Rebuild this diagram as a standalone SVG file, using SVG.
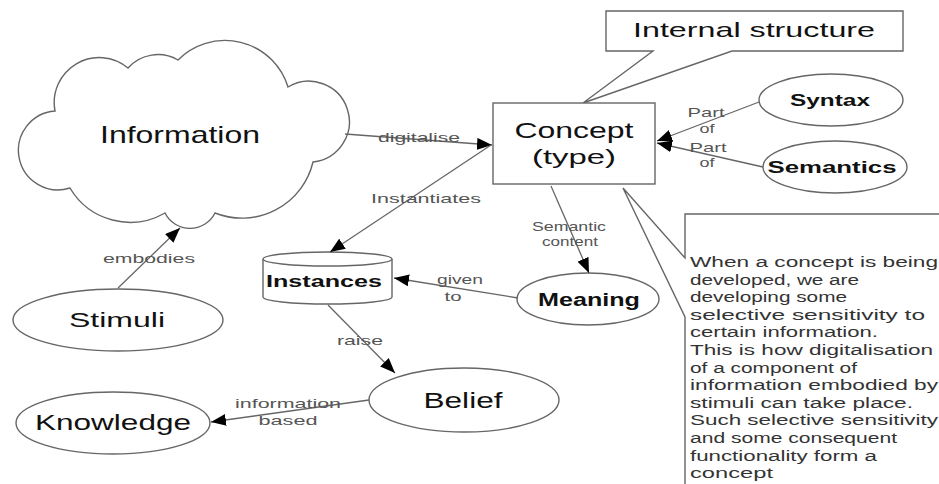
<svg xmlns="http://www.w3.org/2000/svg" width="939" height="484" viewBox="0 0 939 484">
<style>
.shape{fill:#fff;stroke:#666;stroke-width:1.4}
.conn{fill:none;stroke:#666;stroke-width:1.3}
.lbl{font-family:"Liberation Sans",Arial,sans-serif;fill:#111;text-anchor:middle}
.b{font-weight:bold}
.el{font-family:"Liberation Sans",Arial,sans-serif;fill:#555;text-anchor:middle;font-size:13px}
.note{font-family:"Liberation Sans",Arial,sans-serif;fill:#333;font-size:15.5px}
</style>
<defs>
<marker id="arr" markerUnits="userSpaceOnUse" markerWidth="16" markerHeight="12" refX="15" refY="6" orient="auto">
<path d="M0,0 L15,6 L0,12 z" fill="#000"/>
</marker>
</defs>
<rect width="939" height="484" fill="#fff"/>

<g id="note">
<path class="shape" d="M940,214 L685,214 L685,258 L623,188 L685,317 L685,486"/>
<text class="note" x="690" y="267" textLength="248" lengthAdjust="spacingAndGlyphs">When a concept is being</text>
<text class="note" x="690" y="285" textLength="169" lengthAdjust="spacingAndGlyphs">developed, we are</text>
<text class="note" x="690" y="302" textLength="157" lengthAdjust="spacingAndGlyphs">developing some</text>
<text class="note" x="690" y="320" textLength="235" lengthAdjust="spacingAndGlyphs">selective sensitivity to</text>
<text class="note" x="690" y="337" textLength="188" lengthAdjust="spacingAndGlyphs">certain information.</text>
<text class="note" x="690" y="355" textLength="243" lengthAdjust="spacingAndGlyphs">This is how digitalisation</text>
<text class="note" x="690" y="373" textLength="167" lengthAdjust="spacingAndGlyphs">of a component of</text>
<text class="note" x="690" y="390" textLength="248" lengthAdjust="spacingAndGlyphs">information embodied by</text>
<text class="note" x="690" y="408" textLength="223" lengthAdjust="spacingAndGlyphs">stimuli can take place.</text>
<text class="note" x="690" y="425" textLength="248" lengthAdjust="spacingAndGlyphs">Such selective sensitivity</text>
<text class="note" x="690" y="443" textLength="207" lengthAdjust="spacingAndGlyphs">and some consequent</text>
<text class="note" x="690" y="461" textLength="187" lengthAdjust="spacingAndGlyphs">functionality form a</text>
<text class="note" x="690" y="478" textLength="83" lengthAdjust="spacingAndGlyphs">concept</text>
</g>

<g id="internal-structure">
<path class="shape" d="M606,11 L903,11 L903,51 L732,51 L583,103 L653,51 L606,51 z"/>
<text class="lbl" x="754" y="37" font-size="21" textLength="242" lengthAdjust="spacingAndGlyphs">Internal structure</text>
</g>

<g id="information">
<path class="shape" d="M55,111 A45,45 0 0 1 128,68 A40,40 0 0 1 178,60 A66,66 0 0 1 288,87 A40.5,40.5 0 1 1 313,162 A73,73 0 0 1 215,213 A28,28 0 0 1 165,213 A70,70 0 0 1 70,188 A39.5,39.5 0 1 1 55,111 z"/>
<text class="lbl" x="180" y="143" font-size="24" textLength="160" lengthAdjust="spacingAndGlyphs">Information</text>
</g>

<g id="concept">
<rect class="shape" x="493" y="103" width="162" height="81"/>
<text class="lbl" x="574" y="138" font-size="22" textLength="119" lengthAdjust="spacingAndGlyphs">Concept</text>
<text class="lbl" x="574" y="164" font-size="21" textLength="84" lengthAdjust="spacingAndGlyphs">(type)</text>
</g>

<g id="syntax">
<ellipse class="shape" cx="831" cy="100" rx="72" ry="26"/>
<text class="lbl b" x="830" y="106" font-size="17" textLength="80" lengthAdjust="spacingAndGlyphs">Syntax</text>
</g>

<g id="semantics">
<ellipse class="shape" cx="835" cy="167" rx="72" ry="26"/>
<text class="lbl b" x="832" y="173" font-size="17" textLength="129" lengthAdjust="spacingAndGlyphs">Semantics</text>
</g>

<g id="instances">
<path class="shape" d="M263,259 L263,297 A64.5,7 0 0 0 392,297 L392,259"/>
<ellipse class="shape" cx="327.5" cy="259" rx="64.5" ry="7"/>
<text class="lbl b" x="324" y="287" font-size="17" textLength="116" lengthAdjust="spacingAndGlyphs">Instances</text>
</g>

<g id="meaning">
<ellipse class="shape" cx="588" cy="299" rx="71" ry="26"/>
<text class="lbl b" x="589" y="306" font-size="18" textLength="102" lengthAdjust="spacingAndGlyphs">Meaning</text>
</g>

<g id="belief">
<ellipse class="shape" cx="464" cy="400" rx="95" ry="32"/>
<text class="lbl" x="463" y="408" font-size="22" textLength="79" lengthAdjust="spacingAndGlyphs">Belief</text>
</g>

<g id="stimuli">
<ellipse class="shape" cx="118" cy="320" rx="105" ry="31"/>
<text class="lbl" x="117" y="327" font-size="21" textLength="96" lengthAdjust="spacingAndGlyphs">Stimuli</text>
</g>

<g id="knowledge">
<ellipse class="shape" cx="113" cy="423" rx="97" ry="31"/>
<text class="lbl" x="113" y="430" font-size="22" textLength="156" lengthAdjust="spacingAndGlyphs">Knowledge</text>
</g>

<g id="connectors">
<line class="conn" x1="345" y1="134" x2="492" y2="145" marker-end="url(#arr)"/>
<line class="conn" x1="491" y1="145" x2="330" y2="252" marker-end="url(#arr)"/>
<line class="conn" x1="551" y1="186" x2="589" y2="273" marker-end="url(#arr)"/>
<line class="conn" x1="759" y1="102" x2="657" y2="141" marker-end="url(#arr)"/>
<line class="conn" x1="763" y1="167" x2="657" y2="143" marker-end="url(#arr)"/>
<line class="conn" x1="518" y1="298" x2="394" y2="278" marker-end="url(#arr)"/>
<line class="conn" x1="328" y1="305" x2="395" y2="373" marker-end="url(#arr)"/>
<line class="conn" x1="369" y1="400" x2="211" y2="422" marker-end="url(#arr)"/>
<line class="conn" x1="118" y1="288" x2="180" y2="228" marker-end="url(#arr)"/>

<text class="el" x="419" y="142" font-size="15" textLength="82" lengthAdjust="spacingAndGlyphs">digitalise</text>
<text class="el" x="426" y="203" font-size="15" textLength="110" lengthAdjust="spacingAndGlyphs">Instantiates</text>
<text class="el" x="569" y="231" font-size="11" textLength="74" lengthAdjust="spacingAndGlyphs">Semantic</text>
<text class="el" x="570" y="246" font-size="11" textLength="56" lengthAdjust="spacingAndGlyphs">content</text>
<text class="el" x="706" y="117" textLength="37" lengthAdjust="spacingAndGlyphs">Part</text>
<text class="el" x="707" y="133" textLength="15" lengthAdjust="spacingAndGlyphs">of</text>
<text class="el" x="708" y="152" textLength="37" lengthAdjust="spacingAndGlyphs">Part</text>
<text class="el" x="707" y="167" textLength="15" lengthAdjust="spacingAndGlyphs">of</text>
<text class="el" x="460" y="284" font-size="14" textLength="46" lengthAdjust="spacingAndGlyphs">given</text>
<text class="el" x="453" y="301" font-size="14" textLength="17" lengthAdjust="spacingAndGlyphs">to</text>
<text class="el" x="360" y="345" font-size="15" textLength="46" lengthAdjust="spacingAndGlyphs">raise</text>
<text class="el" x="288" y="408" font-size="14" textLength="106" lengthAdjust="spacingAndGlyphs">information</text>
<text class="el" x="288" y="425" font-size="14" textLength="59" lengthAdjust="spacingAndGlyphs">based</text>
<text class="el" x="149" y="263" font-size="15" textLength="92" lengthAdjust="spacingAndGlyphs">embodies</text>
</g>
</svg>
